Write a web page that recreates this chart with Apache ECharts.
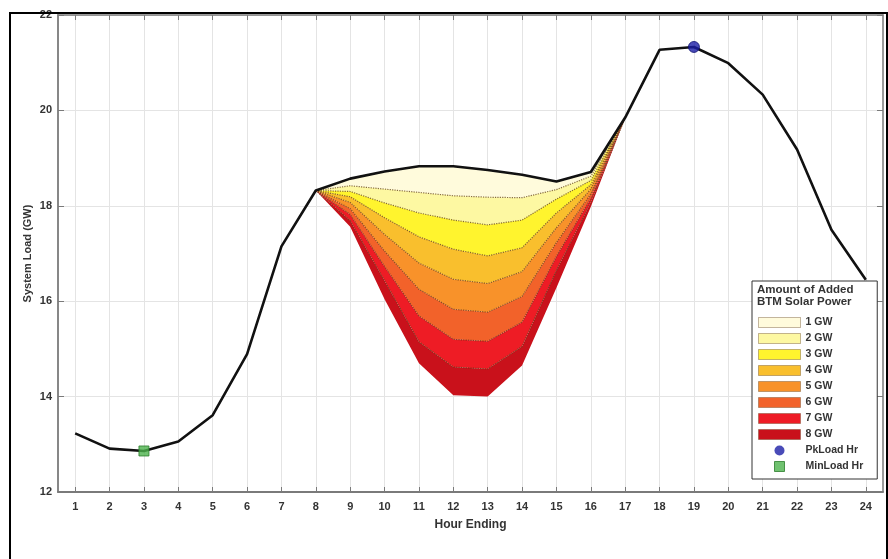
<!DOCTYPE html>
<html>
<head>
<meta charset="utf-8">
<title>System Load with Added BTM Solar Power</title>
<script src="https://cdn.jsdelivr.net/npm/echarts@6/dist/echarts.min.js"></script>
<style>
  html, body { margin: 0; padding: 0; background: #fff; }
  #chart { width: 888px; height: 559px; }
</style>
</head>
<body>
<div id="chart"></div>
<script>
// x axis: hour ending 1..24
const hours = [1, 2, 3, 4, 5, 6, 7, 8, 9, 10, 11, 12, 13, 14, 15, 16, 17, 18, 19, 20, 21, 22, 23, 24]
// y axis ticks (GW)
const yTicks = [12, 14, 16, 18, 20, 22]

// base system load, GW
const systemLoad = [13.23, 12.91, 12.86, 13.06, 13.61, 14.89, 17.15, 18.32, 18.57, 18.72, 18.83, 18.83,
  18.75, 18.65, 18.51, 18.71, 19.85, 21.27, 21.33, 20.99, 20.33, 19.18, 17.50, 16.45]

// hours where the solar shaving happens
const solarHours = [8, 9, 10, 11, 12, 13, 14, 15, 16, 17]
// net load after adding 1..8 GW of BTM solar (same hours as solarHours)
const load1GW = [18.32, 18.42, 18.35, 18.28, 18.21, 18.18, 18.17, 18.34, 18.62, 19.85]
const load2GW = [18.32, 18.30, 18.06, 17.85, 17.70, 17.60, 17.70, 18.14, 18.53, 19.85]
const load3GW = [18.32, 18.19, 17.75, 17.35, 17.09, 16.95, 17.12, 17.85, 18.44, 19.85]
const load4GW = [18.32, 18.07, 17.40, 16.80, 16.46, 16.37, 16.62, 17.54, 18.35, 19.85]
const load5GW = [18.32, 17.94, 17.05, 16.25, 15.83, 15.77, 16.10, 17.23, 18.25, 19.85]
const load6GW = [18.32, 17.82, 16.73, 15.69, 15.20, 15.16, 15.56, 16.94, 18.16, 19.85]
const load7GW = [18.32, 17.69, 16.43, 15.15, 14.62, 14.58, 15.05, 16.65, 18.07, 19.85]
const load8GW = [18.32, 17.56, 16.04, 14.70, 14.03, 14.00, 14.65, 16.28, 17.98, 19.85]

const bandNames = ['1 GW', '2 GW', '3 GW', '4 GW', '5 GW', '6 GW', '7 GW', '8 GW']
const bandColors = ['#fffbdc', '#fdf8a2', '#fff42e', '#f9bf2d', '#f8922a', '#f2622a', '#ee1c25', '#c9111b']
const dotColor = 'rgba(95, 60, 20, 0.75)'
const axisGray = '#7a7a7a'
const gridGray = '#e4e4e4'
const textGray = '#333'

const chart = echarts.init(document.getElementById('chart'))

// put the solar-hour values on the full 24-hour category list
const onHours = (vals) => hours.map(h => {
  const i = solarHours.indexOf(h)
  return i < 0 ? '-' : vals[i]
})

const loadWindow = solarHours.map(h => systemLoad[h - 1])
const levels = [loadWindow, load1GW, load2GW, load3GW, load4GW, load5GW, load6GW, load7GW, load8GW]

const series = []
// invisible base at the 8 GW curve, the bands stack on top of it
series.push({
  name: 'base',
  type: 'line',
  stack: 'solar',
  xAxisIndex: 1,
  data: onHours(load8GW),
  symbol: 'none',
  silent: true,
  lineStyle: { opacity: 0 },
  z: 2
})
for (let k = 8; k >= 1; k--) {
  const upper = levels[k - 1]
  const lower = levels[k]
  series.push({
    name: bandNames[k - 1],
    type: 'line',
    stack: 'solar',
    xAxisIndex: 1,
    data: onHours(upper.map((v, i) => +(v - lower[i]).toFixed(3))),
    symbol: 'none',
    color: bandColors[k - 1],
    areaStyle: { color: bandColors[k - 1], opacity: 1 },
    lineStyle: k === 1 ? { width: 0 } : { type: 'dotted', color: dotColor, width: 1.2 },
    z: 2 + k
  })
}

series.push({
  name: 'System Load',
  type: 'line',
  xAxisIndex: 1,
  data: systemLoad,
  symbol: 'none',
  lineStyle: { color: '#111', width: 2.6 },
  z: 20
})

const pkIdx = systemLoad.indexOf(Math.max(...systemLoad))
const minIdx = systemLoad.indexOf(Math.min(...systemLoad))

series.push({
  name: 'PkLoad Hr',
  type: 'scatter',
  xAxisIndex: 1,
  data: [[pkIdx, systemLoad[pkIdx]]],
  symbol: 'circle',
  symbolSize: 11,
  itemStyle: { color: '#1b1ea6', borderColor: '#0d0f70', borderWidth: 1 },
  z: 21
})
series.push({
  name: 'MinLoad Hr',
  type: 'scatter',
  xAxisIndex: 1,
  data: [[minIdx, systemLoad[minIdx]]],
  symbol: 'rect',
  symbolSize: 10,
  itemStyle: { color: '#4cb34c', borderColor: '#2a7d2a', borderWidth: 1 },
  z: 21
})

const legendData = bandNames.map((n, i) => ({
  name: n,
  icon: 'rect',
  itemStyle: { color: bandColors[i], borderColor: dotColor, borderWidth: 1, borderType: 'dotted' }
}))
legendData.push({ name: 'PkLoad Hr', icon: 'circle', itemStyle: { color: '#1b1ea6', borderWidth: 0 } })
legendData.push({ name: 'MinLoad Hr', icon: 'path://M0,0h10v10h-10z', itemStyle: { color: '#4cb34c', borderColor: '#2a7d2a', borderWidth: 1 } })

const option = {
  animation: false,
  textStyle: { fontFamily: 'Arial, "Liberation Sans", sans-serif' },
  grid: { left: 58, right: 5, top: 15, bottom: 67, outerBoundsMode: 'none' },
  title: {
    text: 'Amount of Added\nBTM Solar Power',
    left: 752,
    top: 284,
    padding: [0, 0, 0, 5],
    textStyle: { fontSize: 11.5, fontWeight: 'bold', color: textGray, lineHeight: 12 }
  },
  legend: {
    orient: 'vertical',
    left: 752,
    top: 281,
    padding: [36, 14, 7, 6],
    itemWidth: 42,
    itemHeight: 10,
    itemGap: 5,
    selectedMode: false,
    backgroundColor: '#fff',
    borderColor: '#333',
    borderWidth: 1,
    textStyle: { fontSize: 10.5, fontWeight: 'bold', color: textGray },
    data: legendData
  },
  xAxis: [
    {
      type: 'value',
      position: 'bottom',
      min: 0.5,
      max: 24.5,
      name: 'Hour Ending',
      nameLocation: 'middle',
      nameGap: 27,
      nameMoveOverlap: false,
      nameTextStyle: { fontSize: 12, fontWeight: 'bold', color: textGray },
      axisLine: { show: true, lineStyle: { color: axisGray, width: 1.8 } },
      axisTick: { show: true, inside: true, length: 5, customValues: hours, lineStyle: { color: axisGray } },
      axisLabel: { customValues: hours, margin: 9, fontSize: 11, fontWeight: 'bold', color: textGray },
      splitLine: { show: true, lineStyle: { color: gridGray, width: 1 } }
    },
    {
      type: 'category',
      data: hours.map(String),
      boundaryGap: true,
      show: false
    },
    {
      type: 'value',
      position: 'top',
      min: 0.5,
      max: 24.5,
      axisLine: { show: true, lineStyle: { color: axisGray, width: 1.5 } },
      axisTick: { show: true, inside: true, length: 5, customValues: hours, lineStyle: { color: axisGray } },
      axisLabel: { show: false },
      splitLine: { show: false }
    }
  ],
  yAxis: [
    {
      type: 'value',
      min: yTicks[0],
      max: yTicks[yTicks.length - 1],
      interval: 2,
      name: 'System Load (GW)',
      nameLocation: 'middle',
      nameGap: 25,
      nameMoveOverlap: false,
      nameTextStyle: { fontSize: 11, fontWeight: 'bold', color: textGray },
      axisLine: { show: true, lineStyle: { color: axisGray, width: 1.8 } },
      axisTick: { show: true, inside: true, length: 6, lineStyle: { color: axisGray } },
      axisLabel: { margin: 6, fontSize: 11, fontWeight: 'bold', color: textGray },
      splitLine: { show: true, lineStyle: { color: gridGray, width: 1 } }
    },
    {
      type: 'value',
      position: 'right',
      min: yTicks[0],
      max: yTicks[yTicks.length - 1],
      interval: 2,
      axisLine: { show: true, lineStyle: { color: axisGray, width: 1.5 } },
      axisTick: { show: true, inside: true, length: 6, lineStyle: { color: axisGray } },
      axisLabel: { show: false },
      splitLine: { show: false }
    }
  ],
  graphic: [
    {
      type: 'rect',
      shape: { x: 10, y: 13, width: 877, height: 560 },
      style: { fill: 'none', stroke: '#000', lineWidth: 2 },
      silent: true,
      z: 100
    }
  ],
  series: series
}

chart.setOption(option)
</script>
</body>
</html>
